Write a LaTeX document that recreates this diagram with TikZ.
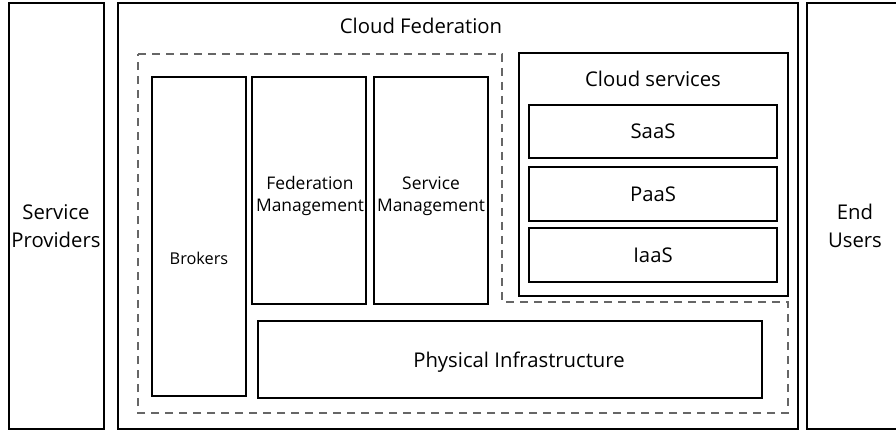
\documentclass[tikz,border=0pt]{standalone}
\usepackage{fontspec}
\setmainfont{Open Sans}
\usetikzlibrary{fit}
\tikzset{
  x=1pt, y=-1pt,
  box/.style={draw=black, line width=2pt, inner sep=0pt},
  zone/.style={draw=black!60, line width=1.2pt, dash pattern=on 8pt off 6pt},
  big/.style={font=\fontsize{20.3}{28}\selectfont, align=center, inner sep=0pt},
  small/.style={font=\fontsize{16.3}{22}\selectfont, align=center, inner sep=0pt},
  mgmt/.style={font=\fontsize{17.4}{22}\selectfont, align=center, inner sep=0pt},
}
\begin{document}
\begin{tikzpicture}
\clip (0,0) rectangle (896,430);
\fill[white] (0,0) rectangle (896,430);

% outer columns
\node[box, fit={(9,3) (104,429)}] (providers) {};
\node[box, fit={(118,3) (798,429)}] (federation) {};
\node[box, fit={(807,3) (910,429)}] (users) {};

\node[big] (providersLbl) at (56,226) {Service\\Providers};
\node[big] (usersLbl) at (855,226) {End\\Users};
\node[big, anchor=base] (fedLbl) at (421,34) {Cloud Federation};

% dashed management zone
\coordinate (z1) at (138,54);
\coordinate (z2) at (502,54);
\coordinate (z3) at (502,302);
\coordinate (z4) at (788,302);
\coordinate (z5) at (788,413);
\coordinate (z6) at (138,413);
\draw[zone] (z1) -- (z2) -- (z3) -- (z4) -- (z5) -- (z6) -- cycle;

% management blocks
\node[box, fit={(152,77) (246,396)}] (brokers) {};
\node[small, anchor=base] (brokersLbl) at (199,265) {Brokers};
\node[box, fit={(252,77) (366,304)}] (fedmgmt) {};
\node[mgmt] (fedmgmtLbl) at (310,196) {Federation\\Management};
\node[box, fit={(374,77) (488,304)}] (svcmgmt) {};
\node[mgmt] (svcmgmtLbl) at (431,196) {Service\\Management};

% cloud services stack
\node[box, fit={(519,53) (788,296)}] (services) {};
\node[big, anchor=base] (servicesLbl) at (653,87) {Cloud services};
\node[box, fit={(529,105) (777,158)}] (saas) {};
\node[big] at (saas.center) {SaaS};
\node[box, fit={(529,167) (777,221)}] (paas) {};
\node[big] at (paas.center) {PaaS};
\node[box, fit={(529,228) (777,282)}] (iaas) {};
\node[big] at (iaas.center) {IaaS};

% physical layer
\node[box, fit={(258,321) (762,398)}] (physical) {};
\node[big, anchor=base] (physicalLbl) at (519,367) {Physical Infrastructure};
\end{tikzpicture}
\end{document}
